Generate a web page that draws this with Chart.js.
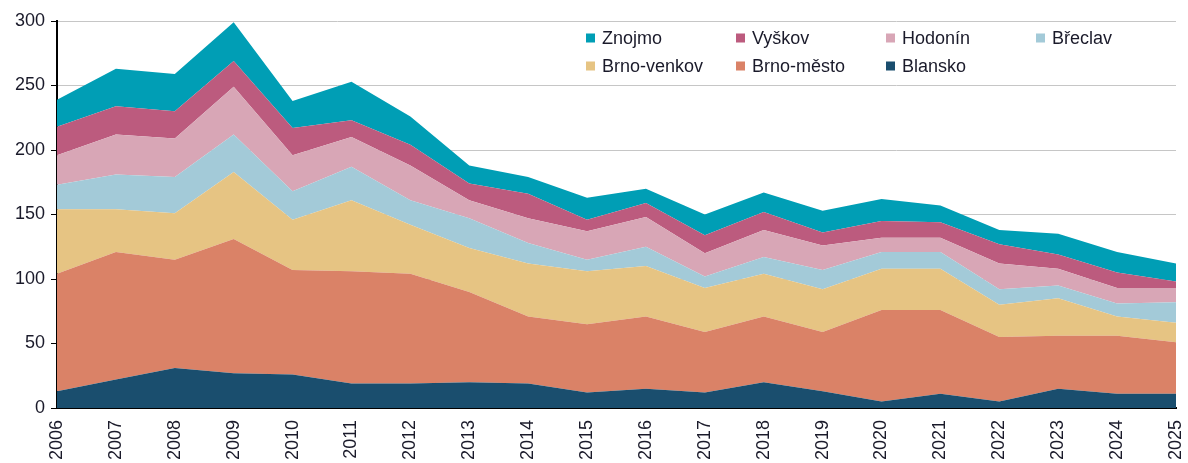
<!DOCTYPE html>
<html>
<head>
<meta charset="utf-8">
<script src="https://cdn.jsdelivr.net/npm/chart.js@4.4.1/dist/chart.umd.min.js"></script>
<style>
  html, body { margin: 0; padding: 0; background: #fff; }
  #wrap { width: 1188px; height: 463px; position: relative; }
</style>
</head>
<body>
<div id="wrap"><canvas id="areaChart"></canvas></div>
<script>
const years = ['2006','2007','2008','2009','2010','2011','2012','2013','2014','2015',
               '2016','2017','2018','2019','2020','2021','2022','2023','2024','2025'];

// hodnoty po okresech (skladane odspodu nahoru)
const blansko    = [13, 22, 31, 27, 26, 19, 19, 20, 19, 12, 15, 12, 20, 13,  5, 11,  5, 15, 11, 11];
const brnoMesto  = [91, 99, 84,104, 81, 87, 85, 70, 52, 53, 56, 47, 51, 46, 71, 65, 50, 41, 45, 40];
const brnoVenkov = [50, 33, 36, 52, 39, 55, 38, 34, 41, 41, 39, 34, 33, 33, 32, 32, 25, 29, 15, 15];
const breclav    = [19, 27, 28, 29, 22, 26, 19, 23, 16,  9, 15,  9, 13, 15, 13, 13, 12, 10, 10, 16];
const hodonin    = [23, 31, 30, 37, 28, 23, 27, 14, 19, 22, 23, 18, 21, 19, 11, 11, 20, 13, 12, 11];
const vyskov     = [22, 22, 21, 20, 21, 13, 16, 13, 19,  9, 11, 14, 14, 10, 13, 12, 15, 11, 12,  5];
const znojmo     = [21, 29, 29, 30, 21, 30, 22, 14, 13, 17, 11, 16, 15, 17, 17, 13, 11, 16, 16, 14];

const yTicks = [0, 50, 100, 150, 200, 250, 300];

const series = [
  { label: 'Blansko',     data: blansko,    color: '#1a4e6e' },
  { label: 'Brno-město',  data: brnoMesto,  color: '#da8267' },
  { label: 'Brno-venkov', data: brnoVenkov, color: '#e6c483' },
  { label: 'Břeclav',     data: breclav,    color: '#a3cad8' },
  { label: 'Hodonín',     data: hodonin,    color: '#d8a6b6' },
  { label: 'Vyškov',      data: vyskov,     color: '#bc5b7e' },
  { label: 'Znojmo',      data: znojmo,     color: '#009eb5' }
];

// legenda uvnitr grafu, 4 sloupce
const innerLegend = {
  id: 'innerLegend',
  afterDraw(chart) {
    const ctx = chart.ctx;
    const area = chart.chartArea;
    const items = chart.data.datasets.slice().reverse();
    const x0 = area.left + 529, y0 = area.top + 17;
    const colW = 150, rowH = 28;
    ctx.save();
    ctx.font = '18px "Liberation Sans", Arial, sans-serif';
    ctx.textBaseline = 'middle';
    ctx.textAlign = 'left';
    items.forEach((ds, i) => {
      const col = i % 4, row = Math.floor(i / 4);
      const x = x0 + col * colW, y = y0 + row * rowH;
      ctx.fillStyle = ds.backgroundColor;
      ctx.fillRect(x, y - 4.5, 9, 9);
      ctx.fillStyle = '#1a1a2a';
      ctx.fillText(ds.label, x + 16, y + 1);
    });
    ctx.restore();
  }
};

new Chart(document.getElementById('areaChart'), {
  type: 'line',
  data: {
    labels: years,
    datasets: series.map((s, i) => ({
      label: s.label,
      data: s.data,
      backgroundColor: s.color,
      borderColor: s.color,
      borderWidth: 0,
      pointRadius: 0,
      tension: 0,
      fill: i === 0 ? 'origin' : '-1'
    }))
  },
  options: {
    responsive: true,
    maintainAspectRatio: false,
    animation: false,
    layout: { padding: { top: 21, right: 12, left: 0, bottom: 0 } },
    plugins: {
      legend: { display: false },
      tooltip: { enabled: false }
    },
    scales: {
      x: {
        offset: false,
        grid: { display: false },
        border: { display: true, color: '#000', width: 2 },
        ticks: {
          color: '#1a1a2a',
          font: { family: '"Liberation Sans", Arial, sans-serif', size: 18 },
          minRotation: 90,
          maxRotation: 90,
          autoSkip: false,
          padding: 4
        },
        afterFit(scale) {
          scale.height = 55;
          scale.paddingLeft = 0;
          scale.paddingRight = 0;
        }
      },
      y: {
        stacked: true,
        min: 0,
        max: 300,
        afterBuildTicks(scale) { scale.ticks = yTicks.map(v => ({ value: v })); },
        grid: { color: '#c6c6c6', lineWidth: 1, tickColor: '#000', tickLength: 6 },
        border: { display: true, color: '#000', width: 2 },
        ticks: {
          color: '#1a1a2a',
          font: { family: '"Liberation Sans", Arial, sans-serif', size: 18 },
          padding: 6
        },
        afterFit(scale) { scale.width = 57; }
      }
    }
  },
  plugins: [innerLegend]
});
</script>
</body>
</html>
